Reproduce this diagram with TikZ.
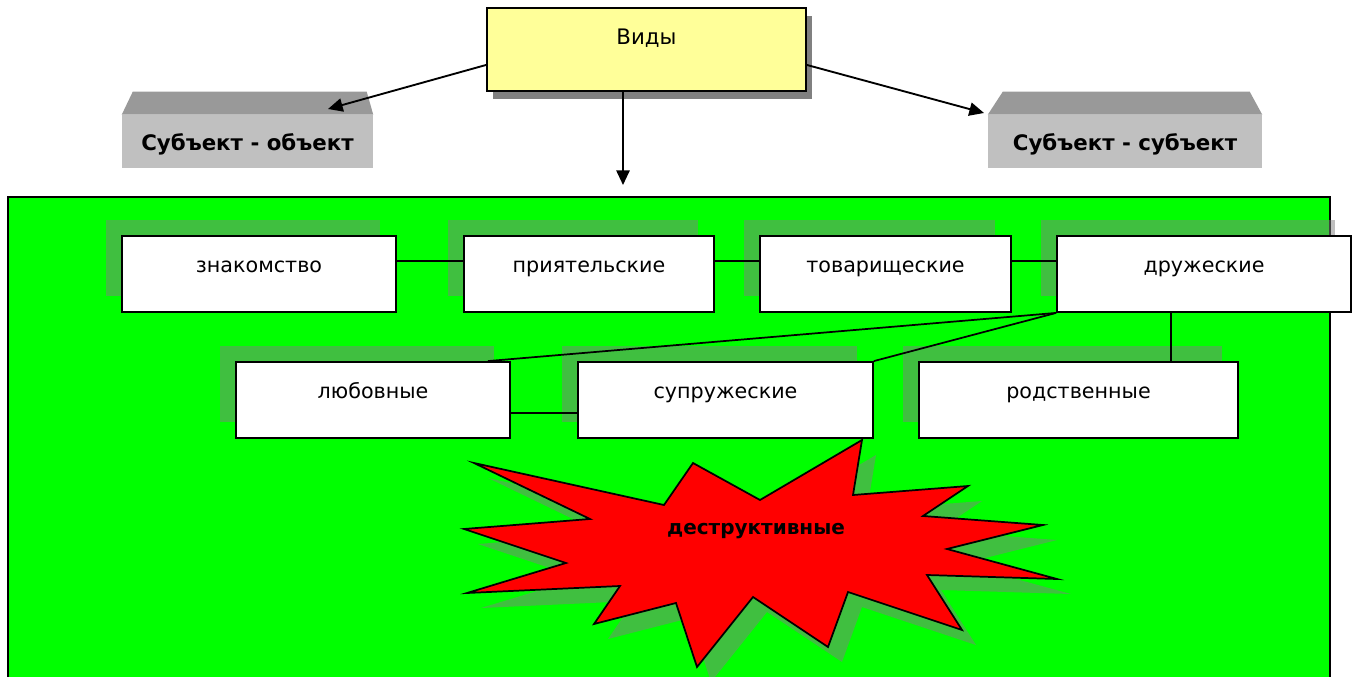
\documentclass[tikz,border=0pt]{standalone}
\usepackage{fontspec}
\setmainfont{DejaVu Sans}
\usetikzlibrary{arrows.meta,shadows}
\definecolor{framegreen}{HTML}{00FF00}
\definecolor{vidyellow}{HTML}{FFFF99}
\definecolor{topgray}{HTML}{999999}
\definecolor{frontgray}{HTML}{C0C0C0}
\definecolor{burstred}{HTML}{FF0000}
\newcommand{\burstpath}{(474,463) -- (664,505) -- (693,463) -- (760,500) -- (862,440) -- (853,495) -- (968,486) -- (923,516) -- (1043,525) -- (947,549) -- (1057,579) -- (927,575) -- (962,630) -- (848,592) -- (828,647) -- (753,597) -- (697,667) -- (676,603) -- (594,624) -- (620,586) -- (467,593) -- (566,563) -- (464,529) -- (590,519) -- cycle}
\begin{document}
\begin{tikzpicture}[x=0.75pt, y=-0.75pt]
      \tikzset{kind/.style={draw, fill=white, line width=1.4pt, minimum height=57pt, inner sep=0pt, text height=11pt, text depth=12.6pt, font=\fontsize{15.5}{18}\selectfont, general shadow={fill=gray, opacity=.5, shadow xshift=-12pt, shadow yshift=12pt}},
               side/.style={fill=frontgray, minimum height=39.75pt, inner sep=0pt, text height=13pt, text depth=0pt, font=\bfseries\fontsize{16}{19}\selectfont},
               link/.style={line width=1.3pt},
               pointer/.style={->, >={Triangle[length=11pt,width=10pt]}, line width=1.4pt}}
      \useasboundingbox (0,0) rectangle (1352,677);
      \clip (0,0) rectangle (1352,677);
%% Frame
      \filldraw[fill=framegreen, line width=1.6pt] (8,197) rectangle (1330,700);
%% Top
      \node[draw, fill=vidyellow, line width=1.4pt, minimum width=239.25pt, minimum height=62.25pt, text height=11pt, text depth=18.6pt, font=\fontsize{16}{19}\selectfont, general shadow={fill=gray, shadow xshift=4.5pt, shadow yshift=-6pt}] (vidy) at (646.5,49.5) {Виды};
      \node[side, minimum width=188.25pt] (so) at (247.5,141.5) {Субъект - объект};
      \node[side, minimum width=205.5pt] (ss) at (1125,141.5) {Субъект - субъект};
      \fill[topgray] (so.north west) -- ++(11,-23) -- ++(234,0) -- (so.north east) -- cycle;
      \fill[topgray] (ss.north west) -- ++(15,-23) -- ++(247,0) -- (ss.north east) -- cycle;
      \coordinate (soTip) at (328,109);
      \coordinate (ssTip) at (984,113);
      \coordinate (frameTop) at (623,185);
      \draw[pointer] ([yshift=-11.6pt]vidy.west) -- (soTip);
      \draw[pointer] ([yshift=-11.6pt]vidy.east) -- (ssTip);
      \draw[pointer] ([xshift=-17.6pt]vidy.south) -- (frameTop);
%% Kinds
      \node[kind, minimum width=205.5pt] (znak) at (259,274) {знакомство};
      \node[kind, minimum width=187.5pt] (priyat) at (589,274) {приятельские};
      \node[kind, minimum width=188.25pt] (tovar) at (885.5,274) {товарищеские};
      \node[kind, minimum width=220.5pt] (druzh) at (1204,274) {дружеские};
      \node[kind, minimum width=205.5pt] (lyub) at (373,400) {любовные};
      \node[kind, minimum width=221.25pt] (supr) at (725.5,400) {супружеские};
      \node[kind, minimum width=239.25pt] (rodst) at (1078.5,400) {родственные};
%Links
      \path[link] ([yshift=9.75pt]znak.east) edge ([yshift=9.75pt]priyat.west);
      \path[link] ([yshift=9.75pt]priyat.east) edge ([yshift=9.75pt]tovar.west);
      \path[link] ([yshift=9.75pt]tovar.east) edge ([yshift=9.75pt]druzh.west);
      \path[link] (druzh.south west) edge ([xshift=-17.25pt]lyub.north east);
      \path[link] (druzh.south west) edge (supr.north east);
      \path[link] ([xshift=-24.75pt]druzh.south) edge ([xshift=-24.75pt]druzh.south |- rodst.north);
      \path[link] ([yshift=-9.75pt]lyub.east) edge ([yshift=-9.75pt]supr.west);
%% Burst
      \fill[gray, opacity=.5, shift={(14,15)}] \burstpath;
      \filldraw[fill=burstred, line width=1.3pt] \burstpath;
      \node[font=\bfseries\fontsize{15}{18}\selectfont] (destr) at (756,531) {деструктивные};
\end{tikzpicture}
\end{document}
